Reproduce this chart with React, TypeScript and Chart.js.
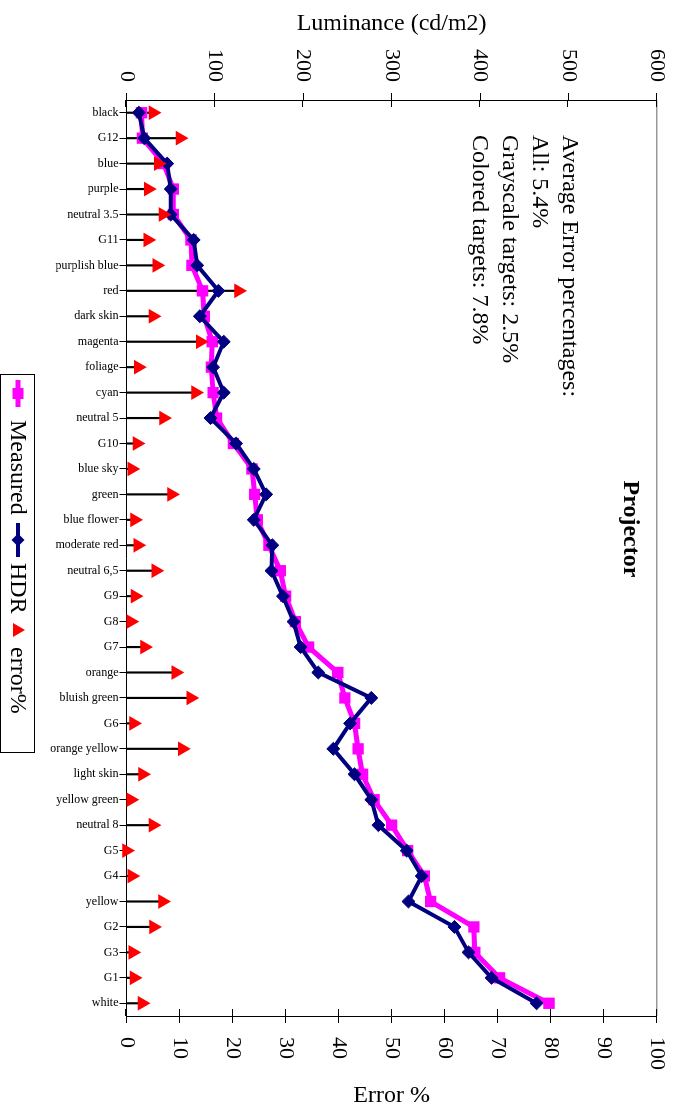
import { useEffect, useRef } from "react"
import { Chart, registerables } from "chart.js"

Chart.register(...registerables)

const SERIF = "'Liberation Serif', 'Times New Roman', serif"

const categories = [
  "black", "G12", "blue", "purple", "neutral 3.5", "G11", "purplish blue", "red",
  "dark skin", "magenta", "foliage", "cyan", "neutral 5", "G10", "blue sky", "green",
  "blue flower", "moderate red", "neutral 6,5", "G9", "G8", "G7", "orange", "bluish green",
  "G6", "orange yellow", "light skin", "yellow green", "neutral 8", "G5", "G4", "yellow",
  "G2", "G3", "G1", "white",
]

// luminance, cd/m2
const measured = [
  17, 18, 42, 53, 53, 73, 74, 86, 88, 97, 96, 98, 102, 121, 142, 145, 148, 161,
  174, 180, 191, 206, 239, 247, 258, 262, 267, 280, 300, 318, 337, 344, 393, 394, 422, 478,
]
const hdr = [
  14, 20, 46, 50, 50, 76, 80, 104, 83, 110, 98, 110, 95, 124, 144, 158, 144, 165,
  164, 177, 189, 197, 217, 277, 253, 234, 258, 277, 285, 317, 334, 319, 371, 387, 413, 464,
]

// error %
const errorPct = [
  5.0, 10.1, 6.0, 4.1, 6.9, 4.0, 5.7, 21.1, 5.0, 13.9, 2.2, 13.0, 7.0, 2.0, 1.0, 8.5,
  1.5, 2.1, 5.5, 1.6, 0.8, 3.4, 9.3, 12.1, 1.3, 10.5, 3.0, 0.8, 5.0, 0, 1.0, 6.8,
  5.1, 1.2, 1.4, 2.9,
]

const noteLines = [
  "Average Error percentages:",
  "All: 5.4%",
  "Grayscale targets: 2.5%",
  "Colored targets: 7.8%",
]

// frame, inner ticks and the loose texts of the old spreadsheet chart
const extrasPlugin = {
  id: "extras",
  beforeDatasetsDraw(chart: any) {
    const { ctx, chartArea: a, scales } = chart
    ctx.save()
    ctx.strokeStyle = "#999"
    ctx.lineWidth = 1.5
    ctx.beginPath()
    ctx.moveTo(a.left, a.top)
    ctx.lineTo(a.right, a.top)
    ctx.stroke()

    ctx.strokeStyle = "#000"
    ctx.lineWidth = 1
    scales.y.ticks.forEach((t: any) => {
      const p = Math.round(scales.y.getPixelForValue(t.value)) + 0.5
      ctx.beginPath()
      ctx.moveTo(a.left, p)
      ctx.lineTo(a.left + 7, p)
      ctx.stroke()
    })
    scales.y2.ticks.forEach((t: any) => {
      const p = Math.round(scales.y2.getPixelForValue(t.value)) + 0.5
      ctx.beginPath()
      ctx.moveTo(a.right - 7, p)
      ctx.lineTo(a.right, p)
      ctx.stroke()
    })
    ctx.restore()
  },
  afterDraw(chart: any) {
    const { ctx, chartArea: a } = chart
    ctx.save()
    ctx.fillStyle = "#000"

    // right axis title
    ctx.save()
    ctx.translate(1096, (a.top + a.bottom) / 2)
    ctx.rotate(-Math.PI / 2)
    ctx.font = `24px ${SERIF}`
    ctx.textAlign = "center"
    ctx.textBaseline = "middle"
    ctx.fillText("Error %", 0, 0)
    ctx.restore()

    // chart title
    ctx.font = `bold 24px ${SERIF}`
    ctx.textAlign = "center"
    ctx.textBaseline = "alphabetic"
    ctx.fillText("Projector", 529, 60)

    // note
    ctx.font = `24px ${SERIF}`
    ctx.textAlign = "left"
    noteLines.forEach((s, i) => ctx.fillText(s, 135, 121 + i * 30))

    // legend
    const top = 649
    const h = 34
    const cy = top + h / 2
    ctx.strokeStyle = "#000"
    ctx.lineWidth = 1
    ctx.strokeRect(374.5, top + 0.5, 378, h)
    ctx.textBaseline = "middle"

    ctx.strokeStyle = "#FF00FF"
    ctx.lineWidth = 5
    ctx.beginPath()
    ctx.moveTo(380, cy)
    ctx.lineTo(407, cy)
    ctx.stroke()
    ctx.fillStyle = "#FF00FF"
    ctx.fillRect(393.5 - 5.5, cy - 5.5, 11, 11)

    ctx.strokeStyle = "#000080"
    ctx.lineWidth = 4
    ctx.beginPath()
    ctx.moveTo(523, cy)
    ctx.lineTo(557, cy)
    ctx.stroke()
    ctx.fillStyle = "#000080"
    ctx.beginPath()
    ctx.moveTo(540 - 6.5, cy)
    ctx.lineTo(540, cy - 6.5)
    ctx.lineTo(540 + 6.5, cy)
    ctx.lineTo(540, cy + 6.5)
    ctx.closePath()
    ctx.fill()

    ctx.fillStyle = "#FF0000"
    ctx.beginPath()
    ctx.moveTo(630 - 7, cy + 5)
    ctx.lineTo(630, cy - 7)
    ctx.lineTo(630 + 7, cy + 5)
    ctx.closePath()
    ctx.fill()

    ctx.fillStyle = "#000"
    ctx.fillText("Measured", 420, cy + 1)
    ctx.fillText("HDR", 563, cy + 1)
    ctx.fillText("error%", 647, cy + 1)
    ctx.restore()
  },
}

function ProjectorChart() {
  const canvasRef = useRef<HTMLCanvasElement>(null)
  const chartRef = useRef<Chart | null>(null)

  useEffect(() => {
    if (!canvasRef.current) return
    if (chartRef.current) chartRef.current.destroy()
    const ctx = canvasRef.current.getContext("2d")
    if (!ctx) return

    Chart.defaults.font.family = SERIF
    Chart.defaults.color = "#000"

    chartRef.current = new Chart(ctx, {
      type: "line",
      data: {
        labels: categories,
        datasets: [
          {
            type: "bar",
            label: "error line",
            data: errorPct,
            yAxisID: "y2",
            backgroundColor: "#000",
            barThickness: 1.5,
            order: 3,
          } as any,
          {
            label: "Measured",
            data: measured,
            yAxisID: "y",
            borderColor: "#FF00FF",
            backgroundColor: "#FF00FF",
            borderWidth: 5,
            pointStyle: "rect",
            pointRadius: 8,
            pointBorderWidth: 0,
            order: 2,
          },
          {
            label: "HDR",
            data: hdr,
            yAxisID: "y",
            borderColor: "#000080",
            backgroundColor: "#000080",
            borderWidth: 4,
            pointStyle: "rectRot",
            pointRadius: 6.5,
            pointBorderWidth: 1,
            order: 1,
          },
          {
            label: "error%",
            data: errorPct,
            yAxisID: "y2",
            showLine: false,
            borderColor: "#FF0000",
            backgroundColor: "#FF0000",
            pointStyle: "triangle",
            pointRadius: 8.5,
            pointBorderWidth: 0,
            clip: false,
            order: 0,
          } as any,
        ],
      },
      options: {
        responsive: false,
        animation: false,
        events: [],
        layout: { padding: { top: 23.5, bottom: 34.5, left: 0, right: 0 } },
        plugins: {
          legend: { display: false },
          tooltip: { enabled: false },
        },
        scales: {
          x: {
            type: "category",
            offset: true,
            afterFit: (s: any) => { s.height = 92 },
            grid: { drawOnChartArea: false, offset: false, tickLength: 7, color: "#000" },
            border: { color: "#000", width: 1 },
            ticks: {
              autoSkip: false,
              minRotation: 90,
              maxRotation: 90,
              padding: 1,
              font: { size: 12 },
              color: "#000",
            },
          },
          y: {
            type: "linear",
            position: "left",
            min: 0,
            max: 600,
            afterFit: (s: any) => { s.width = 100 },
            grid: { drawOnChartArea: false, tickLength: 7, color: "#000" },
            border: { color: "#000", width: 1 },
            ticks: { stepSize: 100, padding: 11, font: { size: 22 }, color: "#000" },
            title: {
              display: true,
              text: "Luminance (cd/m2)",
              font: { size: 24 },
              color: "#000",
              padding: { top: 9, bottom: 0 },
            },
          },
          y2: {
            type: "linear",
            position: "right",
            min: 0,
            max: 100,
            afterFit: (s: any) => { s.width = 94 },
            grid: { drawOnChartArea: false, tickLength: 7, color: "#000" },
            border: { color: "#000", width: 1 },
            ticks: { stepSize: 10, padding: 14, font: { size: 22 }, color: "#000" },
          },
        },
      },
      plugins: [extrasPlugin],
    })

    return () => {
      if (chartRef.current) {
        chartRef.current.destroy()
        chartRef.current = null
      }
    }
  }, [])

  return <canvas ref={canvasRef} width={1110} height={684} />
}

export default function App() {
  // the chart is laid out landscape and turned a quarter clockwise, as in the original
  return (
    <div
      style={{
        position: "fixed",
        left: 0,
        top: 0,
        width: 1110,
        height: 684,
        background: "#fff",
        transformOrigin: "0 0",
        transform: "translate(684px, 0) rotate(90deg)",
      }}
    >
      <ProjectorChart />
    </div>
  )
}
